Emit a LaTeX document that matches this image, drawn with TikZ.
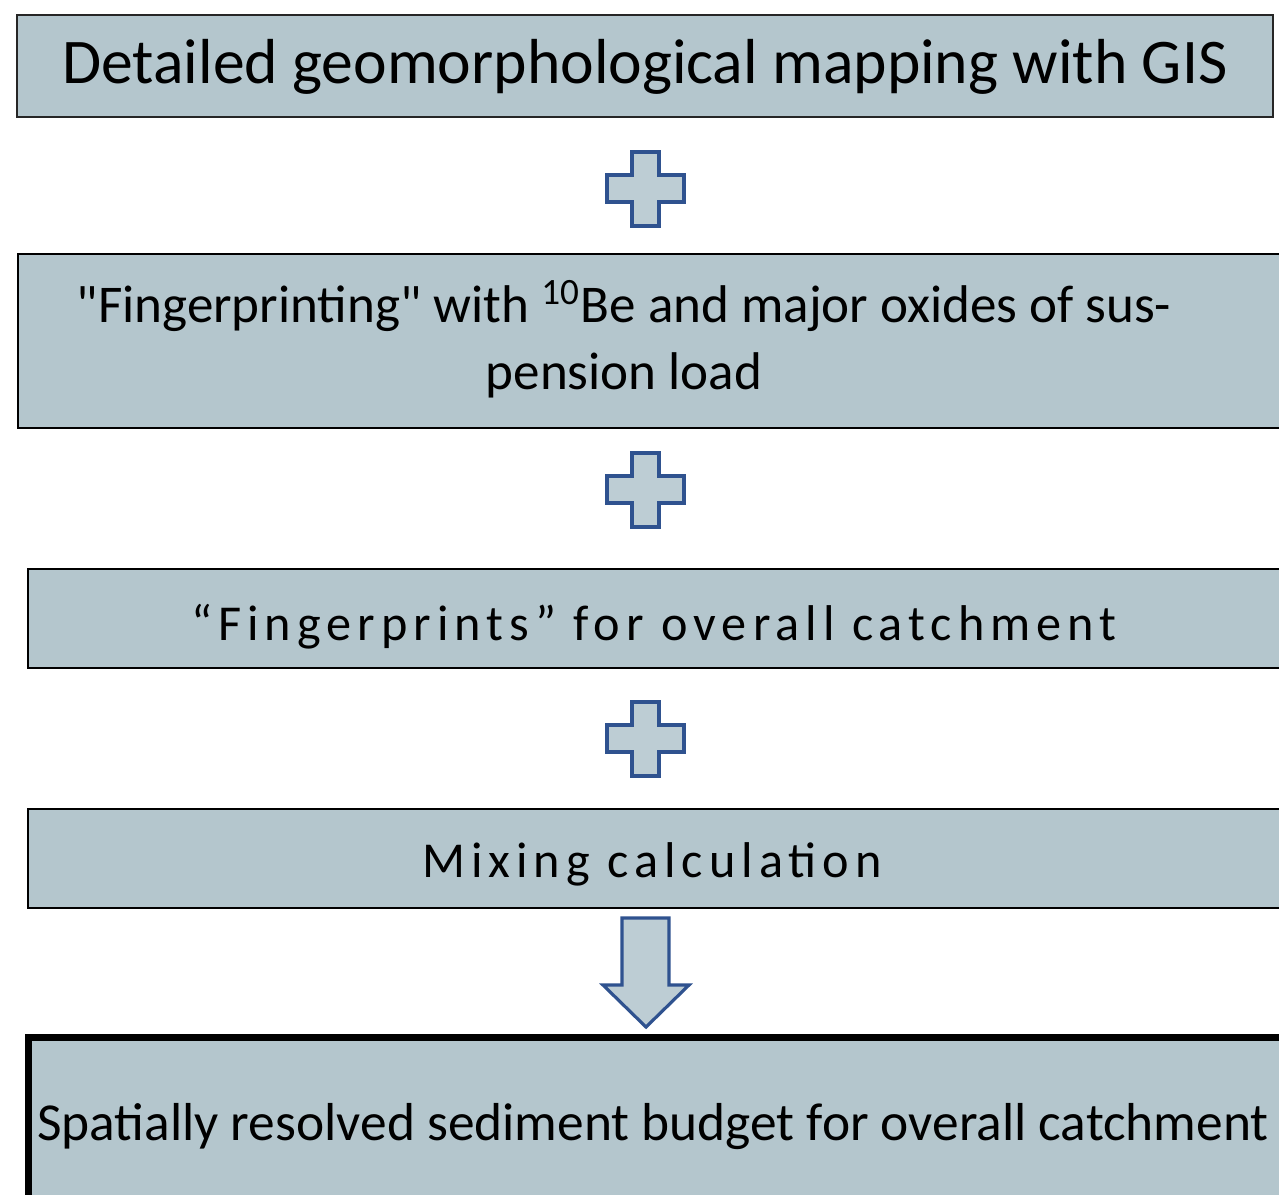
\documentclass[tikz,border=0pt]{standalone}
\usepackage{fontspec}
\setmainfont{Carlito}
\usetikzlibrary{positioning}
\definecolor{caja}{HTML}{B4C6CD}
\definecolor{cruz}{HTML}{BDCDD4}
\definecolor{azul}{HTML}{2F528F}
\definecolor{borde}{HTML}{262626}

\begin{document}
\begin{tikzpicture}[font=\fontsize{14}{17}\selectfont]

\clip (0,0) rectangle (12.79,-11.94);
\fill[white] (0,0) rectangle (12.79,-11.94);

% boxes
\draw[borde,fill=caja,line width=0.45pt] (0.17,-0.15) rectangle (12.73,-1.17);
\draw[black,fill=caja,line width=0.6pt] (0.18,-2.54) rectangle (13.0,-4.28);
\draw[black,fill=caja,line width=0.6pt] (0.28,-5.69) rectangle (13.0,-6.68);
\draw[black,fill=caja,line width=0.6pt] (0.28,-8.09) rectangle (13.0,-9.08);
\draw[black,fill=caja,line width=2pt] (0.285,-10.37) rectangle (12.87,-12.2);

% plus signs
\foreach \y in {-1.89,-4.90,-7.39}
 \draw[azul,fill=cruz,line width=1.1pt] (6.455,\y) ++(-0.135,0.37) -- ++(0.27,0) -- ++(0,-0.23) -- ++(0.25,0) -- ++(0,-0.27) -- ++(-0.25,0) -- ++(0,-0.24) -- ++(-0.27,0) -- ++(0,0.24) -- ++(-0.25,0) -- ++(0,0.27) -- ++(0.25,0) -- cycle;

% arrow
\draw[azul,fill=cruz,line width=0.9pt] (6.22,-9.18) -- (6.69,-9.18) -- (6.69,-9.85) -- (6.89,-9.85) -- (6.46,-10.27) -- (6.03,-9.85) -- (6.22,-9.85) -- cycle;

% texts
\node[anchor=base,font=\fontsize{18.1}{21}\selectfont] (gis) at (6.45,-0.83) {Detailed geomorphological mapping with GIS};
\node[align=center,font=\fontsize{15.1}{19.06}\selectfont] (huella) at (6.24,-3.39) {\textquotedbl Fingerprinting\textquotedbl{} with \textsuperscript{10}Be and major oxides of sus-\\pension load};
\node[anchor=base,font=\fontsize{14.3}{17}\selectfont\addfontfeatures{LetterSpace=12}] (huellas) at (6.54,-6.40) {“Fingerprints” for overall catchment};
\node[anchor=base,font=\fontsize{14.3}{17}\selectfont\addfontfeatures{LetterSpace=12}] (mezcla) at (6.52,-8.77) {Mixing calculation};
\node[anchor=base,font=\fontsize{15.2}{19}\selectfont] (balance) at (6.53,-11.40) {Spatially resolved sediment budget for overall catchment};

\end{tikzpicture}
\end{document}
